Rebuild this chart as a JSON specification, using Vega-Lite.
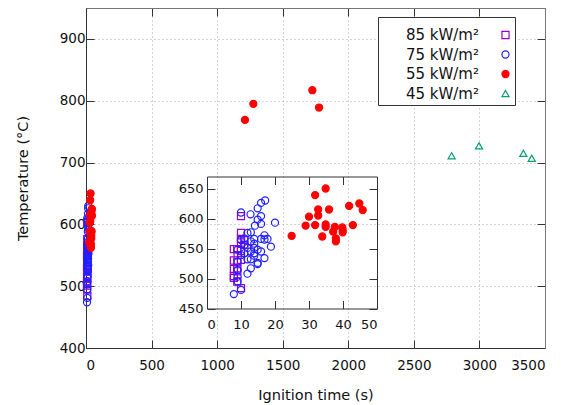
{
  "$schema": "https://vega.github.io/schema/vega-lite/v6.json",
  "width": 459,
  "height": 340,
  "autosize": "none",
  "padding": {"left": 86, "top": 8, "right": 20, "bottom": 57},
  "config": {
    "view": {"stroke": null},
    "font": "DejaVu Sans",
    "axis": {
      "labelFont": "DejaVu Sans", "titleFont": "DejaVu Sans",
      "labelColor": "#111", "titleColor": "#111", "titleFontWeight": "normal",
      "domainColor": "#333", "tickColor": "#333", "tickSize": -8,
      "labelFontSize": 13.5, "titleFontSize": 14.5, "grid": false
    },
    "legend": {
      "orient": "none", "legendX": 292, "legendY": 9,
      "strokeColor": "#333", "fillColor": "white", "padding": 3,
      "labelFontSize": 15, "labelFont": "DejaVu Sans", "labelColor": "#111",
      "labelAlign": "right", "labelOffset": -34, "symbolOffset": 117,
      "titleFontSize": 6, "titlePadding": 1.5, "titleColor": "#111", "titleLimit": 400,
      "symbolSize": 50, "symbolStrokeWidth": 1.2, "rowPadding": 3.5
    }
  },
  "data": {"values": [
    {"series": "85 kW/m²", "t": 10.0, "temp": 604}, {"series": "85 kW/m²", "t": 10.0, "temp": 576},
    {"series": "85 kW/m²", "t": 11.0, "temp": 564}, {"series": "85 kW/m²", "t": 10.0, "temp": 560},
    {"series": "85 kW/m²", "t": 11.0, "temp": 556}, {"series": "85 kW/m²", "t": 7.9, "temp": 549},
    {"series": "85 kW/m²", "t": 8.9, "temp": 549}, {"series": "85 kW/m²", "t": 10.0, "temp": 546},
    {"series": "85 kW/m²", "t": 7.9, "temp": 530}, {"series": "85 kW/m²", "t": 10.0, "temp": 531},
    {"series": "85 kW/m²", "t": 7.9, "temp": 516}, {"series": "85 kW/m²", "t": 8.9, "temp": 517},
    {"series": "85 kW/m²", "t": 7.9, "temp": 504}, {"series": "85 kW/m²", "t": 8.9, "temp": 512},
    {"series": "85 kW/m²", "t": 8.9, "temp": 495}, {"series": "85 kW/m²", "t": 10.0, "temp": 484},
    {"series": "85 kW/m²", "t": 7.9, "temp": 501}, {"series": "85 kW/m²", "t": 9.0, "temp": 539},
    {"series": "85 kW/m²", "t": 8.9, "temp": 527}, {"series": "85 kW/m²", "t": 10.0, "temp": 566},
    {"series": "75 kW/m²", "t": 7.9, "temp": 474}, {"series": "75 kW/m²", "t": 10.0, "temp": 481},
    {"series": "75 kW/m²", "t": 10.0, "temp": 610}, {"series": "75 kW/m²", "t": 12.8, "temp": 607},
    {"series": "75 kW/m²", "t": 14.1, "temp": 588}, {"series": "75 kW/m²", "t": 14.9, "temp": 617},
    {"series": "75 kW/m²", "t": 15.9, "temp": 626}, {"series": "75 kW/m²", "t": 17.1, "temp": 630},
    {"series": "75 kW/m²", "t": 15.9, "temp": 604}, {"series": "75 kW/m²", "t": 14.9, "temp": 598},
    {"series": "75 kW/m²", "t": 15.9, "temp": 591}, {"series": "75 kW/m²", "t": 20.0, "temp": 593},
    {"series": "75 kW/m²", "t": 12.9, "temp": 577}, {"series": "75 kW/m²", "t": 16.9, "temp": 572},
    {"series": "75 kW/m²", "t": 17.8, "temp": 566}, {"series": "75 kW/m²", "t": 18.8, "temp": 553},
    {"series": "75 kW/m²", "t": 16.9, "temp": 534}, {"series": "75 kW/m²", "t": 14.9, "temp": 526},
    {"series": "75 kW/m²", "t": 12.9, "temp": 517}, {"series": "75 kW/m²", "t": 11.9, "temp": 508},
    {"series": "75 kW/m²", "t": 15.9, "temp": 545}, {"series": "75 kW/m²", "t": 13.9, "temp": 551},
    {"series": "75 kW/m²", "t": 14.9, "temp": 548}, {"series": "75 kW/m²", "t": 11.9, "temp": 551},
    {"series": "75 kW/m²", "t": 11.0, "temp": 556}, {"series": "75 kW/m²", "t": 12.9, "temp": 562},
    {"series": "75 kW/m²", "t": 13.9, "temp": 566}, {"series": "75 kW/m²", "t": 15.9, "temp": 566},
    {"series": "75 kW/m²", "t": 11.9, "temp": 532}, {"series": "75 kW/m²", "t": 13.9, "temp": 538},
    {"series": "75 kW/m²", "t": 11.0, "temp": 542}, {"series": "75 kW/m²", "t": 10.0, "temp": 539},
    {"series": "75 kW/m²", "t": 9.0, "temp": 528}, {"series": "75 kW/m²", "t": 9.0, "temp": 514},
    {"series": "75 kW/m²", "t": 9.0, "temp": 548}, {"series": "75 kW/m²", "t": 10.0, "temp": 564},
    {"series": "75 kW/m²", "t": 13.9, "temp": 542}, {"series": "75 kW/m²", "t": 12.9, "temp": 545},
    {"series": "75 kW/m²", "t": 12.9, "temp": 532}, {"series": "75 kW/m²", "t": 9.0, "temp": 495},
    {"series": "75 kW/m²", "t": 9.0, "temp": 503}, {"series": "75 kW/m²", "t": 13.9, "temp": 558},
    {"series": "75 kW/m²", "t": 11.0, "temp": 567}, {"series": "75 kW/m²", "t": 11.9, "temp": 576},
    {"series": "75 kW/m²", "t": 16.9, "temp": 565}, {"series": "75 kW/m²", "t": 14.9, "temp": 524},
    {"series": "55 kW/m²", "t": 24.9, "temp": 571}, {"series": "55 kW/m²", "t": 29.0, "temp": 588},
    {"series": "55 kW/m²", "t": 30.0, "temp": 603}, {"series": "55 kW/m²", "t": 31.8, "temp": 639},
    {"series": "55 kW/m²", "t": 31.8, "temp": 589}, {"series": "55 kW/m²", "t": 32.7, "temp": 615},
    {"series": "55 kW/m²", "t": 32.7, "temp": 605}, {"series": "55 kW/m²", "t": 33.9, "temp": 570},
    {"series": "55 kW/m²", "t": 34.9, "temp": 650}, {"series": "55 kW/m²", "t": 34.9, "temp": 590},
    {"series": "55 kW/m²", "t": 34.9, "temp": 586}, {"series": "55 kW/m²", "t": 35.9, "temp": 615},
    {"series": "55 kW/m²", "t": 37.1, "temp": 578}, {"series": "55 kW/m²", "t": 37.6, "temp": 586},
    {"series": "55 kW/m²", "t": 37.9, "temp": 567}, {"series": "55 kW/m²", "t": 37.9, "temp": 562},
    {"series": "55 kW/m²", "t": 39.8, "temp": 585}, {"series": "55 kW/m²", "t": 39.9, "temp": 577},
    {"series": "55 kW/m²", "t": 39.9, "temp": 581}, {"series": "55 kW/m²", "t": 41.8, "temp": 621},
    {"series": "55 kW/m²", "t": 42.9, "temp": 589}, {"series": "55 kW/m²", "t": 44.8, "temp": 625},
    {"series": "55 kW/m²", "t": 45.8, "temp": 614},
    {"series": "55 kW/m²", "t": 1212, "temp": 769}, {"series": "55 kW/m²", "t": 1276, "temp": 795},
    {"series": "55 kW/m²", "t": 1726, "temp": 817}, {"series": "55 kW/m²", "t": 1777, "temp": 789},
    {"series": "45 kW/m²", "t": 2788, "temp": 711}, {"series": "45 kW/m²", "t": 2997, "temp": 727},
    {"series": "45 kW/m²", "t": 3335, "temp": 715}, {"series": "45 kW/m²", "t": 3399, "temp": 707}
  ]},
  "layer": [
    {
      "layer": [
        {
          "mark": {"type": "point", "opacity": 1, "size": 50, "strokeWidth": 1.2},
          "encoding": {
            "x": {"field": "t", "type": "quantitative", "scale": {"domain": [0, 3500], "nice": false},
                  "axis": {"orient": "bottom", "title": "Ignition time (s)", "format": "d", "values": [0, 500, 1000, 1500, 2000, 2500, 3000, 3500],
                           "labelPadding": 18, "titlePadding": 17, "grid": true, "gridDash": [1, 3], "gridColor": "#aaa"}},
            "y": {"field": "temp", "type": "quantitative", "scale": {"domain": [400, 950], "nice": false, "zero": false},
                  "axis": {"orient": "left", "title": "Temperature (°C)", "values": [400, 500, 600, 700, 800, 900],
                           "labelPadding": 9, "titlePadding": 29, "grid": true, "gridDash": [1, 3], "gridColor": "#aaa"}},
            "stroke": {"field": "series", "type": "nominal",
                       "legend": {"title": "\u00a0\u00a0\u00a0\u00a0\u00a0\u00a0\u00a0\u00a0\u00a0\u00a0\u00a0\u00a0\u00a0\u00a0\u00a0\u00a0\u00a0\u00a0\u00a0\u00a0\u00a0\u00a0\u00a0\u00a0\u00a0\u00a0\u00a0\u00a0\u00a0\u00a0\u00a0\u00a0\u00a0\u00a0\u00a0\u00a0\u00a0\u00a0\u00a0\u00a0\u00a0\u00a0\u00a0\u00a0\u00a0\u00a0\u00a0\u00a0\u00a0\u00a0\u00a0\u00a0\u00a0\u00a0\u00a0\u00a0\u00a0\u00a0\u00a0\u00a0\u00a0\u00a0\u00a0\u00a0\u00a0\u00a0\u00a0\u00a0\u00a0\u00a0\u00a0\u00a0\u00a0\u00a0\u00a0\u00a0\u00a0\u00a0\u00a0\u00a0"},
                       "scale": {"domain": ["85 kW/m²", "75 kW/m²", "55 kW/m²", "45 kW/m²"], "range": ["#9400d3", "#2020ff", "#ff0000", "#009e73"]}},
            "fill": {"field": "series", "type": "nominal",
                     "legend": {"title": "\u00a0\u00a0\u00a0\u00a0\u00a0\u00a0\u00a0\u00a0\u00a0\u00a0\u00a0\u00a0\u00a0\u00a0\u00a0\u00a0\u00a0\u00a0\u00a0\u00a0\u00a0\u00a0\u00a0\u00a0\u00a0\u00a0\u00a0\u00a0\u00a0\u00a0\u00a0\u00a0\u00a0\u00a0\u00a0\u00a0\u00a0\u00a0\u00a0\u00a0\u00a0\u00a0\u00a0\u00a0\u00a0\u00a0\u00a0\u00a0\u00a0\u00a0\u00a0\u00a0\u00a0\u00a0\u00a0\u00a0\u00a0\u00a0\u00a0\u00a0\u00a0\u00a0\u00a0\u00a0\u00a0\u00a0\u00a0\u00a0\u00a0\u00a0\u00a0\u00a0\u00a0\u00a0\u00a0\u00a0\u00a0\u00a0\u00a0\u00a0"},
                     "scale": {"domain": ["85 kW/m²", "75 kW/m²", "55 kW/m²", "45 kW/m²"], "range": ["transparent", "transparent", "#ff0000", "transparent"]}},
            "shape": {"field": "series", "type": "nominal",
                      "legend": {"title": "\u00a0\u00a0\u00a0\u00a0\u00a0\u00a0\u00a0\u00a0\u00a0\u00a0\u00a0\u00a0\u00a0\u00a0\u00a0\u00a0\u00a0\u00a0\u00a0\u00a0\u00a0\u00a0\u00a0\u00a0\u00a0\u00a0\u00a0\u00a0\u00a0\u00a0\u00a0\u00a0\u00a0\u00a0\u00a0\u00a0\u00a0\u00a0\u00a0\u00a0\u00a0\u00a0\u00a0\u00a0\u00a0\u00a0\u00a0\u00a0\u00a0\u00a0\u00a0\u00a0\u00a0\u00a0\u00a0\u00a0\u00a0\u00a0\u00a0\u00a0\u00a0\u00a0\u00a0\u00a0\u00a0\u00a0\u00a0\u00a0\u00a0\u00a0\u00a0\u00a0\u00a0\u00a0\u00a0\u00a0\u00a0\u00a0\u00a0\u00a0"},
                      "scale": {"domain": ["85 kW/m²", "75 kW/m²", "55 kW/m²", "45 kW/m²"], "range": ["square", "circle", "circle", "triangle-up"]}}
          }
        },
        {
          "mark": {"type": "point", "opacity": 0},
          "encoding": {
            "x": {"field": "t", "type": "quantitative",
                  "axis": {"orient": "top", "title": null, "labels": false, "values": [0, 500, 1000, 1500, 2000, 2500, 3000, 3500], "domainColor": "#777"}},
            "y": {"field": "temp", "type": "quantitative",
                  "axis": {"orient": "right", "title": null, "labels": false, "values": [400, 500, 600, 700, 800, 900], "domainColor": "#777"}}
          }
        }
      ],
      "resolve": {"axis": {"x": "independent", "y": "independent"}}
    },
    {
      "transform": [{"filter": "datum.t <= 60"}],
      "layer": [
        {
          "mark": {"type": "point", "opacity": 1, "size": 50, "strokeWidth": 1.2},
          "encoding": {
            "x": {"field": "t", "type": "quantitative", "scale": {"domain": [0, 50], "nice": false, "range": [121, 291]},
                  "axis": {"orient": "bottom", "offset": -39.5, "title": null, "values": [0, 10, 20, 30, 40, 50], "labelFontSize": 13, "labelPadding": 18}},
            "y": {"field": "temp", "type": "quantitative", "scale": {"domain": [450, 670], "nice": false, "zero": false, "range": [300.5, 168.5]},
                  "axis": {"orient": "left", "offset": -121, "title": null, "values": [450, 500, 550, 600, 650], "labelFontSize": 13, "labelPadding": 12}},
            "stroke": {"field": "series", "type": "nominal"},
            "fill": {"field": "series", "type": "nominal"},
            "shape": {"field": "series", "type": "nominal"}
          }
        },
        {
          "mark": {"type": "point", "opacity": 0},
          "encoding": {
            "x": {"field": "t", "type": "quantitative",
                  "axis": {"orient": "top", "offset": -168.5, "title": null, "labels": false, "values": [0, 10, 20, 30, 40, 50]}},
            "y": {"field": "temp", "type": "quantitative",
                  "axis": {"orient": "right", "offset": -168, "title": null, "labels": false, "values": [450, 500, 550, 600, 650]}}
          }
        }
      ],
      "resolve": {"axis": {"x": "independent", "y": "independent"}}
    }
  ],
  "resolve": {"scale": {"x": "independent", "y": "independent"}}
}
